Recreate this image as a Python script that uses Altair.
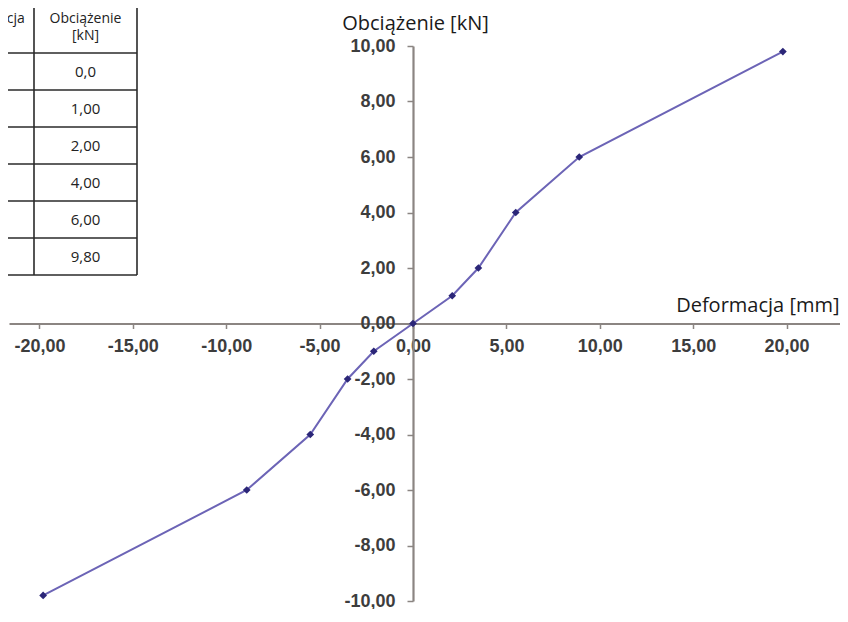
import altair as alt
import pandas as pd

# ---- data ----
deformation = [-19.8, -8.9, -5.5, -3.5, -2.1, 0.0, 2.1, 3.5, 5.5, 8.9, 19.8]
load = [-9.8, -6.0, -4.0, -2.0, -1.0, 0.0, 1.0, 2.0, 4.0, 6.0, 9.8]
x_ticks = [-20, -15, -10, -5, 0, 5, 10, 15, 20]
y_ticks = [-10, -8, -6, -4, -2, 0, 2, 4, 6, 8, 10]
x_title = "Deformacja [mm]"
y_title = "Obciążenie  [kN]"
table_col1_header = ["Deformacja", "[mm]"]
table_col2_header = ["Obciążenie", "[kN]"]
table_load_labels = ["0,0", "1,00", "2,00", "4,00", "6,00", "9,80"]

# ---- layout (pixels) ----
W, H = 831, 555
PX_PER_X = 18.68
X0_PX = 404
x_domain = [-X0_PX / PX_PER_X, (W - X0_PX) / PX_PER_X]
y_domain = [-10, 10]

df = pd.DataFrame({"deformation": deformation, "load": load})

label_expr = "(datum.value < 0 ? '-' : '') + replace(format(abs(datum.value), '.2f'), '.', ',')"
tick_font = "Liberation Sans"
title_font = "Open Sans"
axis_col = "#8b8582"

x_enc = alt.X(
    "deformation:Q",
    scale=alt.Scale(domain=x_domain, nice=False, zero=False),
    axis=alt.Axis(
        values=x_ticks, labelExpr=label_expr, orient="bottom", offset=-H / 2,
        labelOverlap=False, labelFlush=False, tickSize=5, labelPadding=9,
        labelFont=tick_font, labelFontSize=18, labelFontWeight="bold", labelColor="#3d3d3d",
        title=x_title, titleFont=title_font, titleFontSize=20, titleFontWeight="normal",
        titleColor="#1a1a1a", titleX=W - 1, titleY=-18, titleAlign="right",
        titleBaseline="middle", titleAngle=0,
    ),
)
y_enc = alt.Y(
    "load:Q",
    scale=alt.Scale(domain=y_domain, nice=False, zero=False),
    axis=alt.Axis(
        values=y_ticks, labelExpr=label_expr, orient="left", offset=-X0_PX,
        labelOverlap=False, labelFlush=False, tickSize=6, labelPadding=12,
        labelFont=tick_font, labelFontSize=18, labelFontWeight="bold", labelColor="#3d3d3d",
        title=y_title, titleFont=title_font, titleFontSize=20, titleFontWeight="normal",
        titleColor="#1a1a1a", titleX=2, titleY=-23, titleAlign="center",
        titleBaseline="middle", titleAngle=0,
    ),
)

line = alt.Chart(df).mark_line(color="#6c64b6", strokeWidth=2).encode(x=x_enc, y=y_enc)
pts = alt.Chart(df).mark_point(shape="diamond", filled=True, size=60, color="#2b2678", opacity=1).encode(
    x="deformation:Q", y="load:Q"
)

# ---- table (top-left, partially cut by the page edge) ----
ROW_TOP = 7
ROW_H = 37
n_rows = len(table_load_labels)
hl = pd.DataFrame({"y": [ROW_TOP + ROW_H * i for i in range(n_rows + 1)]})
vl = pd.DataFrame({"x": [25, 128]})
hdr = pd.DataFrame({
    "t": table_col1_header + table_col2_header,
    "x": [-22, -22, 76.5, 76.5],
    "y": [-27, -10, -27, -10],
})
rows = pd.DataFrame({
    "t": table_load_labels,
    "x": [76.5] * n_rows,
    "y": [ROW_TOP + ROW_H * (i + 0.5) for i in range(n_rows)],
})

tcol = "#2a2a2a"
hrules = alt.Chart(hl).mark_rule(color=tcol, strokeWidth=1.6).encode(
    x=alt.value(-9), x2=alt.value(128), y=alt.Y("y:Q", scale=None, axis=None)
)
vrules = alt.Chart(vl).mark_rule(color=tcol, strokeWidth=1.6).encode(
    x=alt.X("x:Q", scale=None, axis=None), y=alt.value(-46), y2=alt.value(ROW_TOP + ROW_H * n_rows)
)
hdr_text = alt.Chart(hdr).mark_text(font=title_font, fontSize=14, color="#222", baseline="middle").encode(
    x=alt.X("x:Q", scale=None, axis=None), y=alt.Y("y:Q", scale=None, axis=None), text="t:N"
)
row_text = alt.Chart(rows).mark_text(font=title_font, fontSize=15, color="#222", baseline="middle").encode(
    x=alt.X("x:Q", scale=None, axis=None), y=alt.Y("y:Q", scale=None, axis=None), text="t:N"
)

chart = (
    alt.layer(line, pts, hrules, vrules, hdr_text, row_text)
    .properties(
        width=W, height=H,
        autosize=alt.AutoSizeParams(type="none"),
        padding={"left": 1, "top": 38, "right": 0, "bottom": 8},
        background="white",
    )
    .configure_view(stroke=None)
    .configure_axis(
        grid=False, domainColor=axis_col, domainWidth=2.2, tickColor=axis_col, tickWidth=1.5,
    )
)

chart.save("out.html", embed_options={"renderer": "svg", "actions": False})
